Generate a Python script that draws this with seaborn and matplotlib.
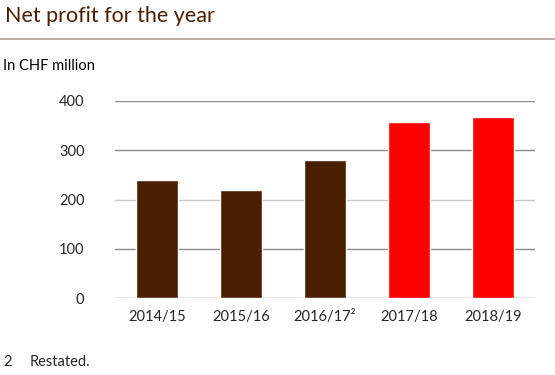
import matplotlib
matplotlib.use("Agg")
import matplotlib.pyplot as plt
import seaborn as sns
import pandas as pd

categories = ["2014/15", "2015/16", "2016/17²", "2017/18", "2018/19"]
values = [240, 219, 280, 357, 367]
groups = ["old", "old", "old", "new", "new"]
yticks = [0, 100, 200, 300, 400]

sns.set_style("white")
plt.rcParams['font.family'] = ['Lato', 'DejaVu Sans']

df = pd.DataFrame({"year": categories, "value": values, "grp": groups})
palette = {"old": "#4a1f00", "new": "#ff0000"}

fig = plt.figure(figsize=(5.55, 3.75), dpi=100)
ax = fig.add_axes([115/555, 1-298/375, 420/555, 197/375])

for t in yticks:
    col = "#c8c8c8" if t == 200 else "#8c8c8c"
    ax.axhline(t, color=col, lw=1.0, zorder=0)

sns.barplot(data=df, x="year", y="value", hue="grp", palette=palette,
            width=0.5, dodge=False, legend=False, ax=ax, saturation=1, zorder=2)

ax.set_ylim(0, 400)
ax.set_xlim(-0.5, 4.5)
ax.set_yticks(yticks)
ax.set_yticklabels([str(t) for t in yticks], fontsize=10.5)
ax.tick_params(axis="x", labelsize=10.5, length=0, pad=9)
ax.tick_params(axis="y", length=0, pad=22)
ax.set_xlabel("")
ax.set_ylabel("")
for s in ax.spines.values():
    s.set_visible(False)

fig.text(5/555, 1-16/375, "Net profit for the year", fontsize=15.5,
         color="#4a1f00", va="center", ha="left")
fig.add_artist(plt.Line2D([0, 1], [1-39/375, 1-39/375], color="#b0a296", lw=1.2,
                          transform=fig.transFigure))
fig.text(3/555, 1-66/375, "In CHF million", fontsize=10.5, color="black",
         va="center", ha="left")
fig.text(3/555, 1-362/375, "2", fontsize=10.5, va="center", ha="left")
fig.text(30/555, 1-362/375, "Restated.", fontsize=10.5, va="center", ha="left")

fig.savefig("out.png", dpi=100)
